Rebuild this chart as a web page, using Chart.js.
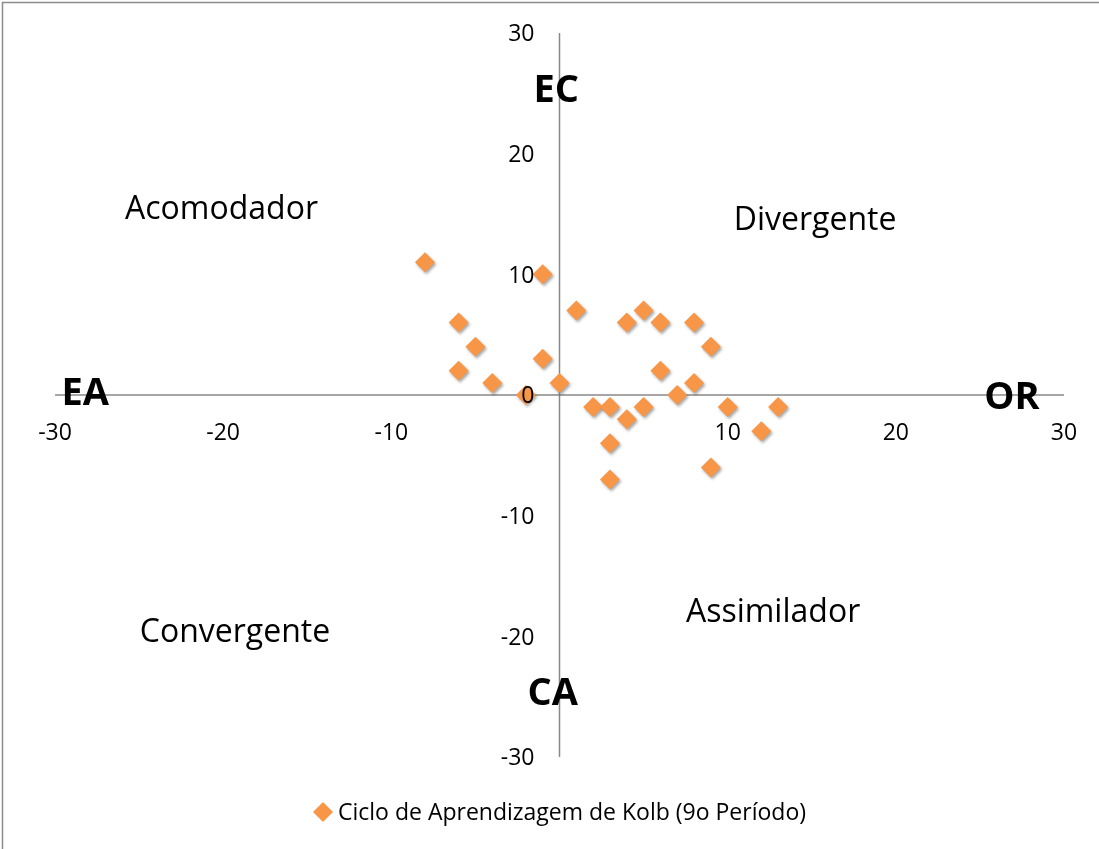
<!DOCTYPE html>
<html>
<head>
<meta charset="utf-8">
<script src="https://cdn.jsdelivr.net/npm/chart.js@4/dist/chart.umd.min.js"></script>
<style>
  html, body { margin: 0; padding: 0; background: #fff; }
  #wrap { width: 1099px; height: 849px; }
</style>
</head>
<body>
<div id="wrap"><canvas id="chart" width="1099" height="849"></canvas></div>
<script>
// Ciclo de Aprendizagem de Kolb
const seriesName = 'Ciclo de Aprendizagem de Kolb (9o Período)';
const xValues = [-8, -1, 1, -6, -5, -6, -4, -1, 0, -2, 4, 5, 6, 8, 9, 6, 7, 8, 2, 3, 4, 5, 3, 3, 10, 12, 13, 9];
const yValues = [11, 10, 7, 6, 4, 2, 1, 3, 1, 0, 6, 7, 6, 6, 4, 2, 0, 1, -1, -1, -2, -1, -4, -7, -1, -3, -1, -6];
const xTicks = [-30, -20, -10, 10, 20, 30]; // Excel leaves out the 0 on this axis
const yTicks = [30, 20, 10, 0, -10, -20, -30];

// quadrant names and axis poles, placed in data units
const quadrants = [
    { text: 'Acomodador', x: -20.1, y: 15.5 },
    { text: 'Divergente', x: 15.2, y: 14.6 },
    { text: 'Convergente', x: -19.3, y: -19.5 },
    { text: 'Assimilador', x: 12.7, y: -17.9 }
];
const poles = [
    { text: 'EC', x: -0.2, y: 25.4 },
    { text: 'CA', x: -0.4, y: -24.6 },
    { text: 'EA', x: -28.2, y: 0.3 },
    { text: 'OR', x: 26.9, y: 0 }
];

const orange = '#F79646';
const axisGrey = '#898989';
const font = '"Open Sans", "DejaVu Sans", sans-serif';

const points = xValues.map(function (x, i) { return { x: x, y: yValues[i] }; });

// draw text so that its capital letters are centred on y
function capText (ctx, text, x, y, size, align) {
    ctx.textAlign = align || 'center';
    ctx.textBaseline = 'alphabetic';
    ctx.fillText(text, x, y + size * 0.357);
}

const kolbPlugin = {
    id: 'kolb',
    beforeDraw (chart) {
        const ctx = chart.ctx;
        ctx.save();
        ctx.fillStyle = '#fff';
        ctx.fillRect(0, 0, chart.width, chart.height);
        // outer frame, only top and left edge fall inside the picture
        ctx.strokeStyle = '#8c8c8c';
        ctx.lineWidth = 1.5;
        ctx.strokeRect(2.5, 2.5, chart.width + 20, chart.height + 20);
        ctx.restore();
    },
    beforeDatasetsDraw (chart) {
        const ctx = chart.ctx;
        const sx = chart.scales.x;
        const sy = chart.scales.y;
        const x0 = sx.getPixelForValue(0);
        const y0 = sy.getPixelForValue(0);
        const area = chart.chartArea;

        ctx.save();
        // axes crossing at zero
        ctx.strokeStyle = axisGrey;
        ctx.lineWidth = 1.5;
        ctx.beginPath();
        ctx.moveTo(area.left, y0);
        ctx.lineTo(area.right, y0);
        ctx.moveTo(x0, area.top);
        ctx.lineTo(x0, area.bottom);
        ctx.stroke();

        // quadrant names
        ctx.fillStyle = '#000';
        ctx.font = '32px ' + font;
        quadrants.forEach(function (q) {
            capText(ctx, q.text, sx.getPixelForValue(q.x), sy.getPixelForValue(q.y), 32, 'center');
        });
        ctx.restore();

        // soft shadow under the markers, undone in afterDatasetsDraw
        ctx.save();
        ctx.shadowColor = 'rgba(0,0,0,0.35)';
        ctx.shadowBlur = 3;
        ctx.shadowOffsetX = 1.5;
        ctx.shadowOffsetY = 2;
    },
    afterDatasetsDraw (chart) {
        const ctx = chart.ctx;
        const sx = chart.scales.x;
        const sy = chart.scales.y;
        const x0 = sx.getPixelForValue(0);
        const y0 = sy.getPixelForValue(0);
        ctx.restore();

        ctx.save();
        ctx.fillStyle = '#000';
        // tick labels sit on top of the markers, as in Excel
        ctx.font = '23px ' + font;
        xTicks.forEach(function (t) {
            capText(ctx, String(t), sx.getPixelForValue(t), y0 + 37, 23, 'center');
        });
        yTicks.forEach(function (t) {
            capText(ctx, String(t), x0 - 25, sy.getPixelForValue(t), 23, 'right');
        });

        // poles of the two axes
        ctx.font = 'bold 38px ' + font;
        poles.forEach(function (p) {
            capText(ctx, p.text, sx.getPixelForValue(p.x), sy.getPixelForValue(p.y), 38, 'center');
        });

        // legend below the plot
        const area = chart.chartArea;
        const ly = 812;
        ctx.font = '23px ' + font;
        const tw = ctx.measureText(seriesName).width;
        const total = 20 + 5 + tw;
        const left = (area.left + area.right) / 2 - total / 2;
        ctx.fillStyle = orange;
        Chart.helpers.drawPoint(ctx, { pointStyle: 'rectRot', radius: 10, borderWidth: 0 }, left + 10, ly);
        ctx.fillStyle = '#000';
        capText(ctx, seriesName, left + 25, ly, 23, 'left');
        ctx.restore();
    }
};

new Chart(document.getElementById('chart'), {
    type: 'scatter',
    data: {
        datasets: [{
            label: seriesName,
            data: points,
            pointStyle: 'rectRot',
            pointRadius: 10,
            pointHoverRadius: 10,
            backgroundColor: orange,
            borderColor: orange,
            borderWidth: 0
        }]
    },
    options: {
        responsive: false,
        animation: false,
        events: [],
        layout: { padding: { left: 55, right: 35, top: 33, bottom: 92 } },
        scales: {
            x: { type: 'linear', min: -30, max: 30, display: false },
            y: { type: 'linear', min: -30, max: 30, display: false }
        },
        plugins: {
            legend: { display: false },
            tooltip: { enabled: false }
        }
    },
    plugins: [kolbPlugin]
});
</script>
</body>
</html>
